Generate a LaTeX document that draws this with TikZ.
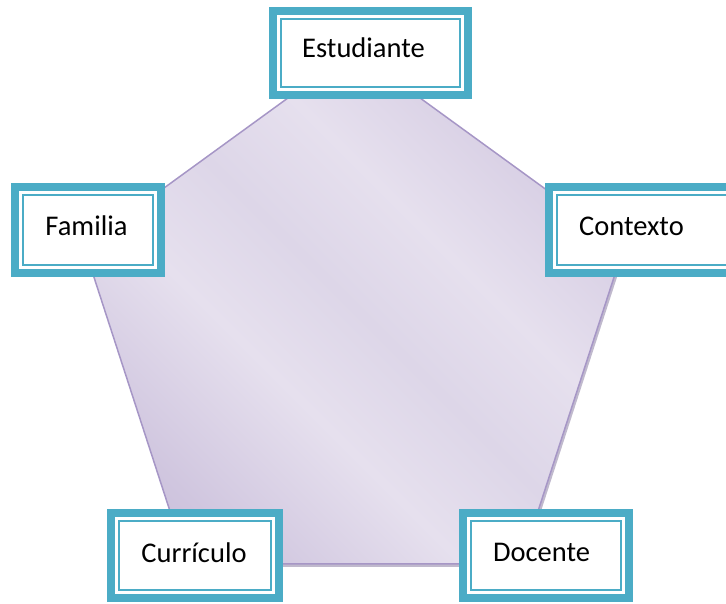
\documentclass[tikz,border=0pt]{standalone}
\usepackage{fontspec}
\setmainfont{Carlito}
\usetikzlibrary{positioning}

\definecolor{marco}{RGB}{75,172,198}
\definecolor{lilaClaro}{RGB}{230,224,238}
\definecolor{lilaSuave}{RGB}{221,214,232}
\definecolor{lilaMedio}{RGB}{208,198,223}
\definecolor{lilaOscuro}{RGB}{176,162,199}
\definecolor{lilaBorde}{RGB}{166,150,198}
\definecolor{lilaSombra}{RGB}{150,138,172}
\pgfdeclarehorizontalshading{brillo}{100bp}{color(0bp)=(lilaOscuro); color(26bp)=(lilaMedio); color(40bp)=(lilaClaro); color(50bp)=(lilaSuave); color(60bp)=(lilaClaro); color(78bp)=(lilaMedio); color(100bp)=(lilaOscuro)}

\begin{document}
\begin{tikzpicture}[x=1pt,y=-1pt,
  pentagono/.style={insert path={(354,50) -- (624.1,246.2) -- (520.9,563.8) -- (187.1,563.8) -- (83.9,246.2) -- cycle}},
  caja/.style={draw=marco,line width=2pt,fill=white,inner sep=0pt,outer sep=0pt,
    preaction={draw=marco,line width=24pt},
    preaction={draw=white,line width=8pt}},
  rotulo/.style={font=\fontsize{28.5}{34}\selectfont,anchor=base,inner sep=0pt}]
\useasboundingbox (0,0) rectangle (726,603);

% pentagono
\fill[lilaSombra,opacity=.6,shift={(2,3)},pentagono];
\shadedraw[draw=lilaBorde,line width=1.5pt,shading=brillo,shading angle=45,pentagono];

% cajas
\node[caja,minimum width=179pt,minimum height=68pt] (estudiante) at (370.5,53) {};
\node[caja,minimum width=130pt,minimum height=70pt] (familia) at (88,230) {};
\node[caja,minimum width=171pt,minimum height=70pt] (contexto) at (642.5,230) {};
\node[caja,minimum width=152pt,minimum height=69pt] (curriculo) at (195,555.5) {};
\node[caja,minimum width=150pt,minimum height=69pt] (docente) at (546,555.5) {};

\node[rotulo] (tEstudiante) at (363.5,57) {Estudiante};
\node[rotulo] (tFamilia) at (86.5,235) {Familia};
\node[rotulo] (tContexto) at (631.5,235) {Contexto};
\node[rotulo] (tCurriculo) at (194,562) {Currículo};
\node[rotulo] (tDocente) at (541.5,561) {Docente};

\end{tikzpicture}
\end{document}
